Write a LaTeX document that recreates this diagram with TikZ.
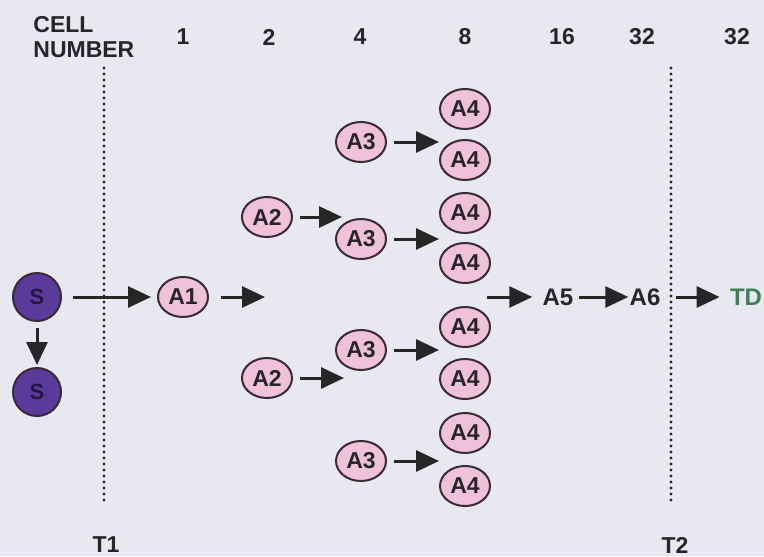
\documentclass[tikz,border=0pt]{standalone}
\usepackage{fontspec}
\setmainfont{Liberation Sans}
\usetikzlibrary{arrows.meta,shapes.geometric}
\definecolor{bg}{HTML}{E8E8F0}
\definecolor{ink}{HTML}{262626}
\definecolor{celledge}{HTML}{3A2A34}
\definecolor{cellpink}{HTML}{F0C2DA}
\definecolor{stempurple}{HTML}{5A3B9C}
\definecolor{stemtext}{HTML}{24163E}
\definecolor{tdgreen}{HTML}{3E8058}
\begin{document}
\begin{tikzpicture}[x=0.5pt,y=-0.5pt,
  cell/.style={ellipse,draw=celledge,line width=1pt,fill=cellpink,
    minimum width=25pt,minimum height=20pt,inner sep=0pt,
    font=\bfseries\fontsize{11.5}{11.5}\selectfont,text=ink},
  stem/.style={circle,draw=celledge,line width=1pt,fill=stempurple,
    minimum size=24pt,inner sep=0pt,
    font=\bfseries\fontsize{11}{11}\selectfont,text=stemtext},
  arr/.style={-{Triangle[length=11.5pt,width=10.5pt]},line width=1.5pt,draw=ink},
  hdr/.style={font=\bfseries\fontsize{11.5}{12.5}\selectfont,text=ink,inner sep=0pt},
  stage/.style={font=\bfseries\fontsize{12}{12}\selectfont,text=ink,inner sep=0pt},
  marker/.style={draw=ink,line width=1.6pt,line cap=round,dash pattern=on 0pt off 3pt}
]
% canvas
\useasboundingbox (0,0) rectangle (764,556);
\fill[bg] (0,0) rectangle (764,556);

% header row
\node[hdr,anchor=north west,align=left] (cellno) at (33,16) {CELL\\NUMBER};
\node[hdr] (n1)  at (183,37) {1};
\node[hdr] (n2)  at (269,37) {2};
\node[hdr] (n4)  at (360,37) {4};
\node[hdr] (n8)  at (465,37) {8};
\node[hdr] (n16) at (562,37) {16};
\node[hdr] (n32) at (642,37) {32};
\node[hdr] (n32b) at (737,37) {32};

% time markers
\coordinate (t1top) at (104,68);
\coordinate (t1bot) at (104,503);
\coordinate (t2top) at (671,68);
\coordinate (t2bot) at (671,503);
\draw[marker] (t1top) -- (t1bot);
\draw[marker] (t2top) -- (t2bot);
\node[hdr] (T1) at (106,545) {T1};
\node[hdr] (T2) at (675,545) {T2};

% stem cells
\node[stem] (S1) at (37,297) {S};
\node[stem] (S2) at (37,392) {S};

% amplifying cells
\node[cell] (A1) at (183,297) {A1};
\node[cell] (A2a) at (267,217) {A2};
\node[cell] (A2b) at (267,378) {A2};
\node[cell] (A3a) at (361,142) {A3};
\node[cell] (A3b) at (361,239) {A3};
\node[cell] (A3c) at (361,350) {A3};
\node[cell] (A3d) at (361,461) {A3};
\node[cell] (A4a) at (465,109) {A4};
\node[cell] (A4b) at (465,160) {A4};
\node[cell] (A4c) at (465,213) {A4};
\node[cell] (A4d) at (465,263) {A4};
\node[cell] (A4e) at (465,327) {A4};
\node[cell] (A4f) at (465,379) {A4};
\node[cell] (A4g) at (465,433) {A4};
\node[cell] (A4h) at (465,486) {A4};

% later stages
\node[stage] (A5) at (558,297) {A5};
\node[stage] (A6) at (645,297) {A6};
\node[stage,text=tdgreen] (TD) at (746,297) {TD};

% arrow ends
\coordinate (e1) at (265,297);
\coordinate (e2a) at (342,217);
\coordinate (e2b) at (344,378);
\coordinate (e3a) at (439,142);
\coordinate (e3b) at (439,239);
\coordinate (e3c) at (439,350);
\coordinate (e3d) at (439,461);
\coordinate (s4) at (487,297);

% connectors
\draw[arr,shorten <=3pt,shorten >=1pt] (S1) -- (S2);
\draw[arr,shorten <=5.5pt,shorten >=3pt] (S1) -- (A1);
\draw[arr,shorten <=6pt] (A1) -- (e1);
\draw[arr,shorten <=3.5pt] (A2a) -- (e2a);
\draw[arr,shorten <=3.5pt] (A2b) -- (e2b);
\draw[arr,shorten <=3.5pt] (A3a) -- (e3a);
\draw[arr,shorten <=3.5pt] (A3b) -- (e3b);
\draw[arr,shorten <=3.5pt] (A3c) -- (e3c);
\draw[arr,shorten <=3.5pt] (A3d) -- (e3d);
\draw[arr,shorten >=5pt] (s4) -- (A5);
\draw[arr,shorten <=2.5pt,shorten >=0.5pt] (A5) -- (A6);
\draw[arr,shorten <=7.5pt,shorten >=5pt] (A6) -- (TD);
\end{tikzpicture}
\end{document}
